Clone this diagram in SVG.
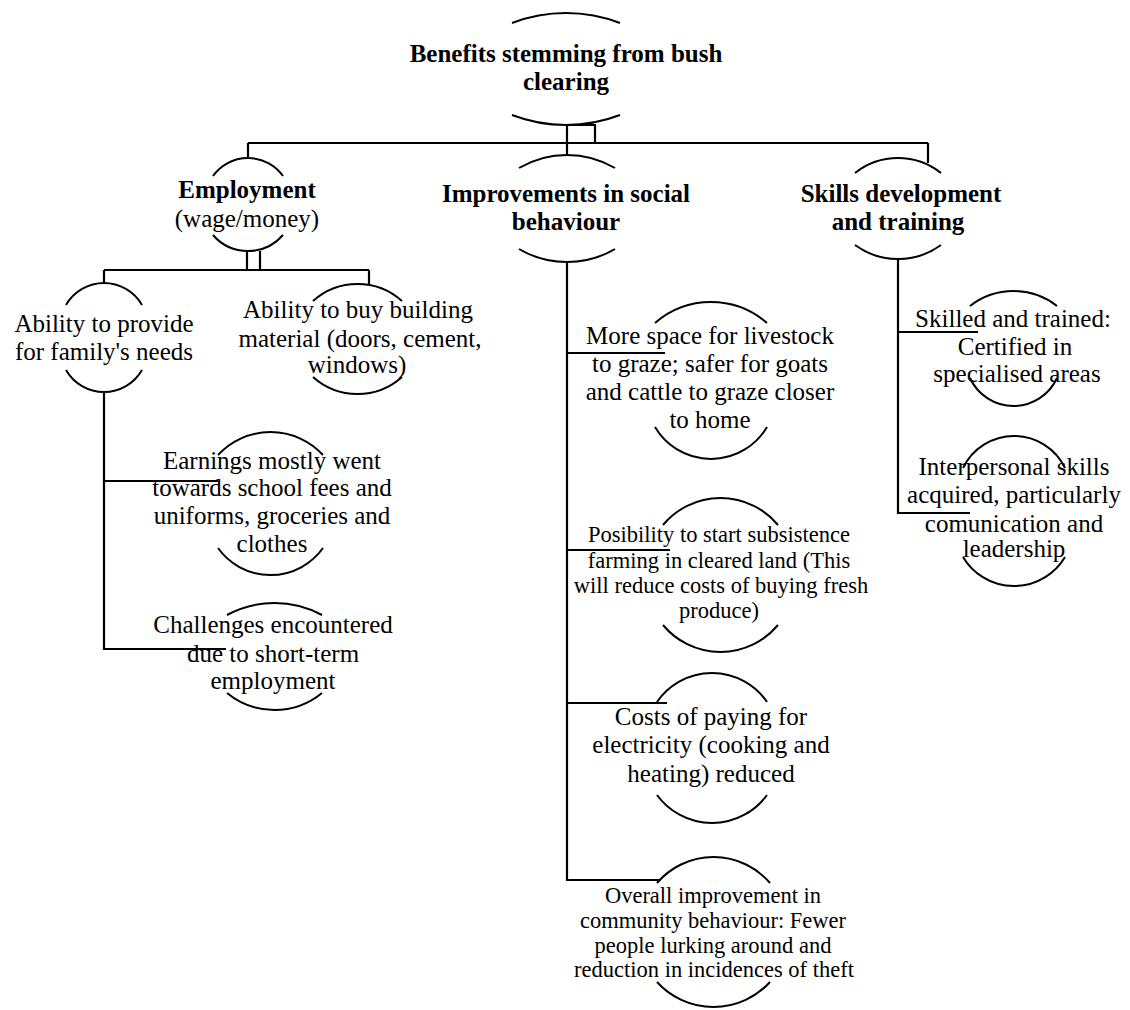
<svg xmlns="http://www.w3.org/2000/svg" width="1130" height="1010" viewBox="0 0 1130 1010">
<style>
.arc{fill:none;stroke:#000;stroke-width:2}
.ln{fill:none;stroke:#000;stroke-width:2.2}
text{font-family:"Liberation Serif","Times New Roman",serif;font-size:25px;fill:#000;text-anchor:middle}
.b{font-weight:bold}
.s{font-size:22.5px}
</style>
<rect width="1130" height="1010" fill="#fff"/>
<g id="connectors">
<path class="ln" d="M567 125V155M567 125H595V143M248 143H928M248 143V158M928 143V163"/>
<path class="ln" d="M247 251V270M260 251V270M104 270H369M104 270V284M369 270V285"/>
<path class="ln" d="M104 392V649H226M104 481H218"/>
<path class="ln" d="M567 262V880H660M567 353H665M567 550H670M567 703H667"/>
<path class="ln" d="M898 259V513H970M898 332H978"/>
</g>
<g id="root">
<path class="arc" d="M512 23A150.8 150.8 0 0 1 620 23M512 115A150.8 150.8 0 0 0 620 115"/>
<text class="b" x="566" y="62">Benefits stemming from bush</text>
<text class="b" x="566" y="90">clearing</text>
</g>
<g id="employment">
<path class="arc" d="M213 176A43 43 0 0 1 283 176M213 235A46.3 46.3 0 0 0 283 235"/>
<text class="b" x="247" y="198">Employment</text>
<text x="247" y="227">(wage/money)</text>
</g>
<g id="social">
<path class="arc" d="M519 168A95.1 95.1 0 0 1 615 168M519 249A95.1 95.1 0 0 0 615 249"/>
<text class="b" x="566" y="202">Improvements in social</text>
<text class="b" x="566" y="230">behaviour</text>
</g>
<g id="skills">
<path class="arc" d="M855 173A69.1 69.1 0 0 1 941 173M855 245A73 73 0 0 0 941 245"/>
<text class="b" x="901" y="202">Skills development</text>
<text class="b" x="898" y="230">and training</text>
</g>
<g id="family">
<path class="arc" d="M66 305A43.8 43.8 0 0 1 142 305M66 370A43.8 43.8 0 0 0 142 370"/>
<text x="104" y="332">Ability to provide</text>
<text x="104" y="360">for family's needs</text>
</g>
<g id="building">
<path class="arc" d="M313 301A66.7 66.7 0 0 1 402 301M313 377A66.7 66.7 0 0 0 402 377"/>
<text x="358" y="318">Ability to buy building</text>
<text x="360" y="347">material (doors, cement,</text>
<text x="357" y="373">windows)</text>
</g>
<g id="earnings">
<path class="arc" d="M218 455A71.4 71.4 0 0 1 323 455M218 548A64.5 64.5 0 0 0 323 548"/>
<text x="272" y="469">Earnings mostly went</text>
<text x="272" y="496">towards school fees and</text>
<text x="272" y="524">uniforms, groceries and</text>
<text x="272" y="552">clothes</text>
</g>
<g id="challenges">
<path class="arc" d="M227 615A100 100 0 0 1 322 615M227 693A74.9 74.9 0 0 0 322 693"/>
<text x="273" y="633">Challenges encountered</text>
<text x="273" y="662">due to short-term</text>
<text x="273" y="689">employment</text>
</g>
<g id="livestock">
<path class="arc" d="M655 323A85.2 85.2 0 0 1 767 323M655 427A65 65 0 0 0 767 427"/>
<text x="710" y="344">More space for livestock</text>
<text x="710" y="372">to graze; safer for goats</text>
<text x="710" y="400">and cattle to graze closer</text>
<text x="710" y="428">to home</text>
</g>
<g id="farming">
<path class="arc" d="M663 525A74.7 74.7 0 0 1 778 525M663 625A74.7 74.7 0 0 0 778 625"/>
<text class="s" x="719" y="542">Posibility to start subsistence</text>
<text class="s" x="719" y="568">farming in cleared land (This</text>
<text class="s" x="721" y="593">will reduce costs of buying fresh</text>
<text class="s" x="719" y="618">produce)</text>
</g>
<g id="electricity">
<path class="arc" d="M657 702A66.7 66.7 0 0 1 767 702M657 795A68 68 0 0 0 767 795"/>
<text x="711" y="725">Costs of paying for</text>
<text x="711" y="753">electricity (cooking and</text>
<text x="711" y="782">heating) reduced</text>
</g>
<g id="community">
<path class="arc" d="M657 883A74.4 74.4 0 0 1 770 883M657 982A76.3 76.3 0 0 0 770 982"/>
<text class="s" x="713" y="903">Overall improvement in</text>
<text class="s" x="713" y="928">community behaviour: Fewer</text>
<text class="s" x="713" y="953">people lurking around and</text>
<text class="s" x="714" y="977">reduction in incidences of theft</text>
</g>
<g id="certified">
<path class="arc" d="M970 306A70.6 70.6 0 0 1 1057 306M970 378A47.8 47.8 0 0 0 1057 378"/>
<text x="1013" y="327">Skilled and trained:</text>
<text x="1015" y="355">Certified in</text>
<text x="1017" y="382">specialised areas</text>
</g>
<g id="interpersonal">
<path class="arc" d="M963 468A56.6 56.6 0 0 1 1065 468M963 557A59.3 59.3 0 0 0 1065 557"/>
<text x="1014" y="475">Interpersonal skills</text>
<text x="1014" y="503">acquired, particularly</text>
<text x="1014" y="532">comunication and</text>
<text x="1014" y="557">leadership</text>
</g>
</svg>
